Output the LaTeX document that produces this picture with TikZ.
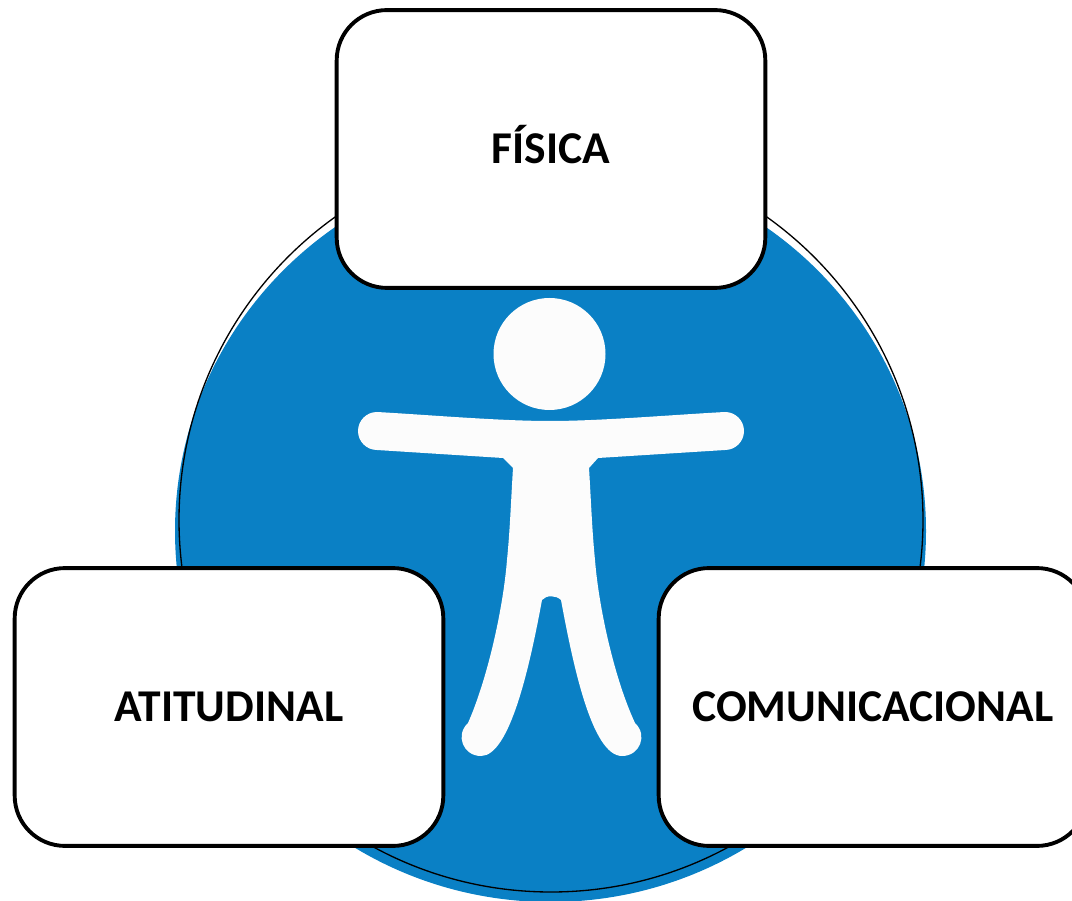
\documentclass[tikz,border=0pt]{standalone}
\usepackage{fontspec}
\setmainfont{Carlito}
\definecolor{discblue}{HTML}{0A80C5}
\definecolor{figwhite}{HTML}{FCFCFC}
\tikzset{
  labelbox/.style={draw=black,fill=white,line width=2.2pt,rounded corners=28.5pt,minimum width=243pt,minimum height=157.5pt,inner sep=0pt,font=\fontsize{25.8pt}{30pt}\selectfont\bfseries,text=black,text height=16.5pt,text depth=0pt,anchor=center},
  figfill/.style={fill=figwhite,draw=none}
}
\begin{document}
\begin{tikzpicture}[x=0.5669pt,y=-0.5669pt]
\useasboundingbox (0,0) rectangle (1072,901);
\clip (0,0) rectangle (1072,901);
\fill[discblue] (550.5,531) ellipse[x radius=375.5,y radius=371];
\draw[black,line width=0.75pt] (551,520) circle[radius=372];
\fill[figfill] (549.5,354) circle[radius=56];
\fill[figfill] (377,412)
  .. controls (430,415) and (500,421) .. (550,421)
  .. controls (600,421) and (670,415) .. (725,412)
  arc[start angle=-90,end angle=90,radius=19]
  -- (598,458) -- (589,468)
  .. controls (591,500) and (592,530) .. (595,560)
  .. controls (599,610) and (615,680) .. (635,723)
  .. controls (648,735) and (640,756) .. (622,756)
  .. controls (592,756) and (573,665) .. (561,600)
  .. controls (556,595) and (546,595) .. (542,600)
  .. controls (530,665) and (510,756) .. (481,756)
  .. controls (463,756) and (455,735) .. (468,723)
  .. controls (487,680) and (503,610) .. (507,560)
  .. controls (510,530) and (511,500) .. (513,468)
  -- (503,458) -- (377,450)
  arc[start angle=90,end angle=270,radius=19] -- cycle;
\node[labelbox] (fisica) at (551,149) {FÍSICA};
\node[labelbox] (atitudinal) at (229,707) {ATITUDINAL};
\node[labelbox] (comunicacional) at (873,707) {COMUNICACIONAL};
\end{tikzpicture}
\end{document}
